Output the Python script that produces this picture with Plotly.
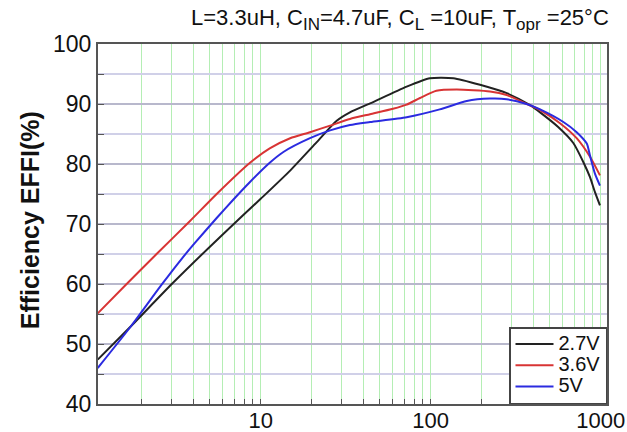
import plotly.graph_objects as go

# Load current (mA) and efficiency (%)
i_27 = [1.10, 1.73, 3.05, 6.0, 10, 14.9, 21.3, 28.0, 33.5, 44.0, 72.2, 99, 136, 195, 280, 384, 440, 560, 690, 791, 865, 925, 990]
e_27 = [47.4, 53.0, 60.2, 68.3, 74.2, 78.9, 83.6, 87.2, 88.6, 90.1, 92.9, 94.3, 94.3, 93.2, 91.8, 89.8, 88.6, 86.2, 83.5, 80.3, 77.8, 75.3, 73.1]

i_36 = [1.10, 1.6, 2.44, 3.84, 5.51, 8.65, 11.3, 14.9, 19.5, 25.6, 33.5, 44.0, 60, 72.2, 86.5, 108, 142, 223, 280, 367, 440, 576, 722, 865, 990]
e_36 = [55.1, 59.8, 65.0, 70.5, 75.0, 80.2, 82.6, 84.3, 85.3, 86.4, 87.5, 88.3, 89.2, 89.9, 91.0, 92.2, 92.4, 92.1, 91.5, 90.0, 89.0, 86.8, 84.3, 81.2, 78.1]

i_5 = [1.10, 1.73, 2.6, 3.43, 4.09, 5.51, 6.87, 8.65, 11.3, 13.6, 19.5, 25.6, 33.5, 44.0, 72.2, 113, 163, 223, 280, 367, 440, 603, 722, 828, 865, 925, 990]
e_5 = [46.0, 53.0, 59.8, 64.2, 66.8, 71.0, 74.0, 77.0, 80.2, 82.0, 84.3, 85.6, 86.5, 87.0, 87.8, 89.1, 90.5, 90.9, 90.8, 90.0, 89.1, 87.0, 85.3, 83.4, 81.4, 78.4, 76.4]

series_names = ["2.7V", "3.6V", "5V"]
series_colors = ["#222222", "#d83434", "#2b2be0"]

x_tickvals = [10, 100, 1000]
x_ticktext = ["10", "100", "1000"]
x_minorvals = [2, 3, 4, 5, 6, 7, 8, 9, 20, 30, 40, 50, 60, 70, 80, 90,
               200, 300, 400, 500, 600, 700, 800, 900]
y_tickvals = [40, 50, 60, 70, 80, 90, 100]

FONT = "Liberation Sans, Arial, sans-serif"

fig = go.Figure()
for xs, ys, name, col in zip([i_27, i_36, i_5], [e_27, e_36, e_5], series_names, series_colors):
    fig.add_trace(go.Scatter(
        x=xs, y=ys, mode="lines",
        name="<span style='font-size:20px'>" + name + "</span>",
        line=dict(color=col, width=2, shape="spline", smoothing=0.6)))

fig.update_layout(
    width=627, height=432,
    margin=dict(l=98, r=20, t=44, b=28, autoexpand=False),
    paper_bgcolor="white", plot_bgcolor="white",
    font=dict(family=FONT, color="#111"),
    showlegend=True,
    legend=dict(x=1, xanchor="right", y=0, yanchor="bottom",
                bgcolor="white", bordercolor="#444", borderwidth=1.5,
                font=dict(size=14, family=FONT, color="#111"),
                tracegroupgap=0, itemwidth=38),
)
fig.update_xaxes(
    type="log", range=[0.043, 3.037], automargin=False,
    tickmode="array", tickvals=x_tickvals, ticktext=x_ticktext,
    ticks="inside", ticklen=5, tickcolor="#555",
    ticklabelstandoff=-4,
    showgrid=True, gridcolor="#b4eeb4", gridwidth=1,
    minor=dict(tickmode="array", tickvals=x_minorvals, showgrid=True, gridcolor="#b4eeb4",
               gridwidth=1, ticks="inside", ticklen=5, tickcolor="#555"),
    showline=True, linecolor="#555", linewidth=2, mirror=True,
    tickfont=dict(size=22, family=FONT, color="#111"),
    zeroline=False,
)
fig.update_yaxes(
    range=[40, 100], automargin=False,
    tickmode="array", tickvals=y_tickvals,
    ticks="inside", ticklen=6, tickcolor="#555",
    showgrid=True, gridcolor="#b8b8cc", gridwidth=1.5,
    minor=dict(dtick=5, showgrid=True, gridcolor="#d0d0e8", gridwidth=1.5, ticks="inside", ticklen=6, tickcolor="#555"),
    showline=True, linecolor="#555", linewidth=2, mirror=True,
    tickfont=dict(size=23, family=FONT, color="#111"),
    zeroline=False,
)

sub = "<sub><span style='font-size:17px'>{}</span></sub>"
fig.add_annotation(
    text="L=3.3uH, C" + sub.format("IN") + "=4.7uF, C" + sub.format("L") + " =10uF, T" + sub.format("opr") + " =25°C",
    xref="paper", yref="paper", x=1.008, y=1.068, xanchor="right", yanchor="middle",
    showarrow=False, font=dict(size=22, family=FONT, color="#111"),
)
fig.add_annotation(
    text="<b>Efficiency EFFI(%)</b>",
    xref="paper", yref="paper", x=-0.132, y=0.51, xanchor="center", yanchor="middle",
    textangle=-90, showarrow=False, font=dict(size=25, family=FONT, color="#111"),
)

fig.write_html("out.html", config={"displayModeBar": False},
               post_script="document.body.style.margin='0';document.body.style.overflow='hidden';")
